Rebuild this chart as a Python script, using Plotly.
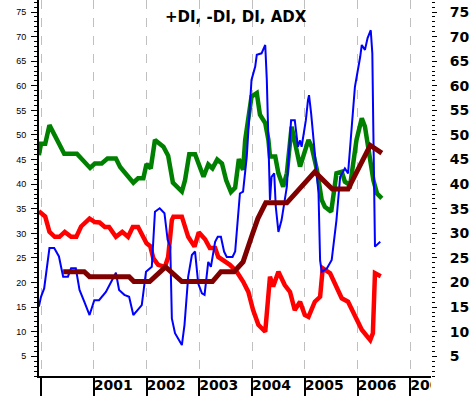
import plotly.graph_objects as go

# ---- data (decimal years, indicator values) ----
green_t = [1999.96, 2000.00, 2000.08, 2000.16, 2000.44, 2000.68, 2000.93, 2001.02, 2001.15, 2001.26,
           2001.42, 2001.50, 2001.75, 2001.84, 2001.94, 2002.00, 2002.08, 2002.16, 2002.32, 2002.41,
           2002.50, 2002.67, 2002.73, 2002.81, 2002.92, 2003.08, 2003.17, 2003.25, 2003.34, 2003.43,
           2003.51, 2003.60, 2003.68, 2003.75, 2003.83, 2003.87, 2003.99, 2004.09, 2004.15, 2004.25,
           2004.31, 2004.34, 2004.44, 2004.50, 2004.59, 2004.66, 2004.75, 2004.81, 2004.91, 2005.07,
           2005.13, 2005.23, 2005.32, 2005.38, 2005.50, 2005.60, 2005.70, 2005.76, 2005.86, 2005.98,
           2006.08, 2006.14, 2006.24, 2006.30, 2006.37, 2006.46]
green_v = [45.9, 48.2, 48.2, 52.0, 46.2, 46.2, 43.3, 44.2, 44.2, 45.2,
           45.2, 43.5, 40.3, 41.2, 41.2, 44.1, 43.2, 49.0, 47.6, 45.8,
           40.3, 38.5, 40.8, 46.1, 46.1, 41.5, 44.0, 43.2, 45.0, 44.2,
           40.8, 38.4, 39.3, 45.1, 42.9, 49.0, 57.8, 58.5, 54.1, 52.4,
           49.0, 45.6, 45.6, 42.2, 39.5, 42.2, 51.7, 48.3, 43.6, 49.0,
           47.6, 42.9, 36.8, 35.4, 34.4, 42.2, 42.5, 40.5, 39.8, 49.0,
           53.4, 51.7, 45.6, 40.8, 38.1, 37.1]

red_t = [1999.96, 2000.08, 2000.16, 2000.26, 2000.35, 2000.45, 2000.57, 2000.67, 2000.76, 2000.92,
         2001.02, 2001.11, 2001.21, 2001.29, 2001.42, 2001.54, 2001.65, 2001.74, 2001.84, 2001.91,
         2002.00, 2002.07, 2002.13, 2002.22, 2002.35, 2002.41, 2002.48, 2002.51, 2002.67, 2002.79,
         2002.91, 2002.99, 2003.11, 2003.20, 2003.30, 2003.36, 2003.52, 2003.58, 2003.71, 2003.83,
         2003.93, 2004.02, 2004.12, 2004.25, 2004.34, 2004.40, 2004.50, 2004.62, 2004.72, 2004.81,
         2004.91, 2005.00, 2005.07, 2005.19, 2005.29, 2005.34, 2005.48, 2005.60, 2005.70, 2005.82,
         2005.95, 2006.08, 2006.24, 2006.29, 2006.33, 2006.44]
red_v = [34.5, 33.4, 30.3, 29.3, 29.3, 30.3, 29.3, 29.3, 31.4, 33.0,
         32.3, 32.2, 31.3, 31.3, 29.3, 30.3, 29.3, 31.3, 31.3, 29.7,
         28.0, 27.4, 24.9, 23.6, 23.2, 25.2, 32.7, 33.4, 33.4, 29.3,
         27.3, 30.2, 28.8, 27.0, 27.0, 25.2, 24.2, 23.6, 22.2, 20.2,
         18.1, 14.4, 11.4, 10.0, 21.2, 19.2, 22.2, 19.5, 18.1, 14.4,
         16.1, 13.4, 13.0, 16.1, 17.1, 22.9, 21.9, 19.2, 16.8, 16.1,
         13.4, 10.4, 8.3, 9.7, 21.9, 21.3]

blue_t = [1999.96, 2000.00, 2000.06, 2000.16, 2000.25, 2000.34, 2000.38, 2000.42, 2000.51, 2000.57,
          2000.66, 2000.73, 2000.82, 2000.92, 2001.01, 2001.10, 2001.23, 2001.42, 2001.48, 2001.58,
          2001.67, 2001.75, 2001.83, 2001.91, 2001.99, 2002.10, 2002.16, 2002.25, 2002.34, 2002.40,
          2002.45, 2002.48, 2002.54, 2002.67, 2002.72, 2002.79, 2002.86, 2002.92, 2002.98, 2003.05,
          2003.10, 2003.17, 2003.22, 2003.30, 2003.35, 2003.41, 2003.47, 2003.52, 2003.63, 2003.68,
          2003.77, 2003.83, 2003.90, 2003.99, 2004.06, 2004.09, 2004.18, 2004.25, 2004.28, 2004.32,
          2004.34, 2004.37, 2004.42, 2004.45, 2004.50, 2004.56, 2004.66, 2004.74, 2004.81, 2004.87,
          2004.91, 2004.94, 2005.02, 2005.06, 2005.08, 2005.12, 2005.19, 2005.26, 2005.29, 2005.32,
          2005.42, 2005.51, 2005.60, 2005.67, 2005.76, 2005.82, 2005.89, 2005.95, 2006.05, 2006.08,
          2006.14, 2006.19, 2006.25, 2006.28, 2006.30, 2006.33, 2006.43]
blue_v = [15.1, 17.1, 18.8, 27.0, 27.0, 25.3, 23.2, 21.2, 21.2, 22.9,
          22.9, 18.5, 16.1, 13.4, 16.4, 16.4, 18.1, 22.0, 18.5, 17.5,
          17.1, 13.4, 14.4, 15.4, 22.2, 23.2, 34.4, 35.1, 34.1, 28.7,
          27.3, 12.7, 9.7, 7.3, 11.4, 21.2, 25.6, 26.3, 19.8, 17.8,
          17.5, 24.2, 23.2, 28.3, 29.3, 29.3, 26.3, 25.2, 25.2, 26.3,
          38.1, 38.5, 45.6, 61.2, 63.9, 66.3, 66.6, 68.3, 61.2, 46.3,
          36.8, 41.5, 42.2, 35.4, 30.3, 32.7, 39.5, 53.0, 53.0, 47.6,
          48.9, 47.6, 53.0, 57.1, 58.1, 54.4, 46.3, 38.1, 24.5, 22.2,
          22.9, 24.6, 32.7, 41.5, 43.2, 42.2, 51.7, 59.8, 65.9, 68.3,
          67.3, 69.7, 71.3, 66.6, 50.3, 27.3, 28.3]

adx_t = [2000.42, 2000.82, 2000.92, 2001.67, 2001.76, 2002.06, 2002.36, 2002.67, 2003.25, 2003.41,
         2003.66, 2003.83, 2003.99, 2004.11, 2004.26, 2004.66, 2005.19, 2005.52, 2005.82, 2006.24,
         2006.46]
adx_v = [22.2, 22.2, 21.2, 21.2, 20.2, 20.2, 23.2, 20.2, 20.2, 22.2,
         22.2, 24.2, 29.3, 33.0, 36.2, 36.2, 42.5, 39.0, 39.0, 47.9,
         46.3]

year_ticks = [2000, 2001, 2002, 2003, 2004, 2005, 2006, 2007]
year_label_pos = [2001, 2002, 2003, 2004, 2005, 2006, 2007]
year_labels = ["2001", "2002", "2003", "2004", "2005", "2006", "2007"]
value_ticks = [5, 10, 15, 20, 25, 30, 35, 40, 45, 50, 55, 60, 65, 70, 75]
title_text = "+DI, -DI, DI, ADX"

X_RANGE = [1999.962, 2007.392]
Y_RANGE = [1.0, 77.44]
W, H = 469, 396
STRIP = 20 / H

fig = go.Figure()
fig.add_trace(go.Scatter(x=green_t, y=green_v, mode="lines",
                         line=dict(color="#008000", width=4.5), hoverinfo="skip"))
fig.add_trace(go.Scatter(x=red_t, y=red_v, mode="lines",
                         line=dict(color="#ff0000", width=4.5), hoverinfo="skip"))
fig.add_trace(go.Scatter(x=blue_t, y=blue_v, mode="lines",
                         line=dict(color="#0000ff", width=2), hoverinfo="skip"))
fig.add_trace(go.Scatter(x=adx_t, y=adx_v, mode="lines", yaxis="y2",
                         line=dict(color="#800000", width=5), hoverinfo="skip"))
# year labels in the bottom strip (clipped at the right edge like the original)
fig.add_trace(go.Scatter(x=year_label_pos, y=[0.5] * len(year_label_pos), text=year_labels,
                         mode="text", textposition="middle right", xaxis="x2", yaxis="y3",
                         cliponaxis=True, hoverinfo="skip",
                         textfont=dict(family="DejaVu Sans", size=14, color="black", weight="bold")))

fig.update_layout(
    width=W, height=H,
    margin=dict(l=39, r=38, t=0, b=0, pad=0),
    paper_bgcolor="white", plot_bgcolor="white",
    showlegend=False, hovermode=False,
    xaxis=dict(range=X_RANGE, domain=[0, 1], anchor="y", tickvals=year_ticks,
               showticklabels=False, ticks="outside", ticklen=20, tickwidth=2, tickcolor="black",
               showgrid=True, gridcolor="#c0c0c0", griddash="dash", gridwidth=1,
               showline=True, linecolor="black", linewidth=2, zeroline=False),
    xaxis2=dict(matches="x", anchor="y3", domain=[0, 1], showgrid=False, showline=False,
                showticklabels=False, ticks="", zeroline=False),
    yaxis=dict(range=Y_RANGE, domain=[STRIP, 1], anchor="x", side="left",
               tickvals=value_ticks, ticks="outside", ticklen=6, tickwidth=1, tickcolor="black",
               minor=dict(dtick=1, ticks="outside", ticklen=3, tickcolor="black", showgrid=False),
               showline=True, linecolor="black", linewidth=2, showgrid=False, zeroline=False,
               ticklabelstandoff=3,
               tickfont=dict(family="Liberation Sans, Arial", size=9, color="black")),
    yaxis2=dict(range=Y_RANGE, overlaying="y", side="right", anchor="x",
                tickvals=value_ticks, ticks="outside", ticklen=5, tickwidth=1, tickcolor="black",
                minor=dict(dtick=1, ticks="outside", ticklen=3, tickcolor="black", showgrid=False),
                showline=False, showgrid=False, zeroline=False, ticklabelstandoff=10,
                tickfont=dict(family="DejaVu Sans", size=14, color="black", weight="bold")),
    yaxis3=dict(range=[0, 1], domain=[0, STRIP], anchor="x2", visible=False),
    annotations=[dict(text=title_text, xref="paper", yref="paper",
                      x=(236 - 39) / (W - 39 - 38), y=1 - 17 / H,
                      xanchor="center", yanchor="middle", showarrow=False,
                      font=dict(family="DejaVu Sans", size=15, color="black", weight="bold"))],
)

fig.write_html("out.html",
               config={"displayModeBar": False, "staticPlot": True},
               post_script="document.body.style.margin='0';"
                           "document.documentElement.style.overflow='hidden';"
                           "document.body.style.overflow='hidden';")
